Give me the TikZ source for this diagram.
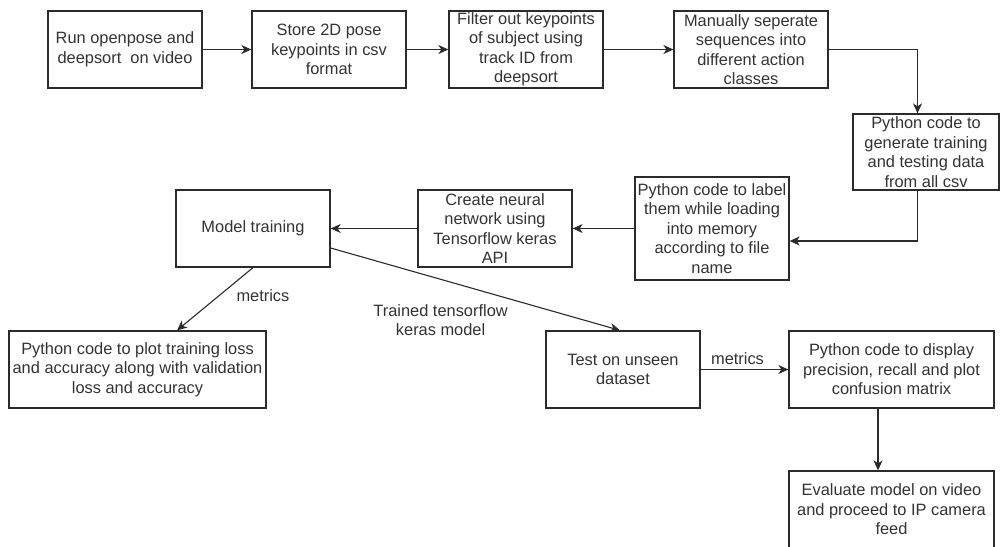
\documentclass[tikz,border=0pt]{standalone}
\usepackage{fontspec}
\setmainfont{Liberation Sans}
\usetikzlibrary{arrows.meta,positioning}
\definecolor{ink}{HTML}{2B2B2B}
\definecolor{txt}{HTML}{333333}
\tikzset{
  box/.style={draw=ink, line width=1.3pt, rectangle, inner sep=0pt, align=center,
    text=txt, font=\fontsize{16.4}{19.5}\selectfont, minimum width=154pt, minimum height=77pt},
  arr/.style={draw=ink, line width=1.1pt, -{Stealth[length=10pt,width=9pt,inset=3pt]}},
  lbl/.style={text=txt, font=\fontsize{16.4}{19.5}\selectfont, align=center, inner sep=0pt}
}
\begin{document}
\begin{tikzpicture}[x=1pt,y=-1pt]
\useasboundingbox[fill=white] (0,0) rectangle (1000,546);

% top row
\node[box] (run) at (125,49.5) {Run openpose and\\deepsort\ \ on video};
\node[box] (store) at (329,49.5) {Store 2D pose\\keypoints in csv\\format};
\node[box] (filter) at (526,49.5) {Filter out keypoints\\of subject using\\track ID from\\deepsort};
\node[box] (sep) at (751,49.5) {Manually seperate\\sequences into\\different action\\classes};
\node[box, minimum width=146pt, minimum height=76pt] (gen) at (926,152) {Python code to\\generate training\\and testing data\\from all csv};

% middle row
\node[box, minimum height=103pt] (lab) at (712,228.5) {Python code to label\\them while loading\\into memory\\according to file\\name};
\node[box] (nn) at (495,228.5) {Create neural\\network using\\Tensorflow keras\\API};
\node[box] (train) at (253,228.5) {Model training};

% bottom rows
\node[box, minimum width=257pt] (plot) at (137.5,369.5) {Python code to plot training loss\\and accuracy along with validation\\loss and accuracy};
\node[box] (test) at (623,369.5) {Test on unseen\\dataset};
\node[box, minimum width=205pt] (disp) at (891.5,369.5) {Python code to display\\precision, recall and plot\\confusion matrix};
\node[box, minimum width=205pt] (eval) at (891.5,509.5) {Evaluate model on video\\and proceed to IP camera\\feed};

% connectors
\draw[arr] (run.east) -- (store.west);
\draw[arr] (store.east) -- (filter.west);
\draw[arr] (filter.east) -- (sep.west);
\draw[arr] (sep.east) -| ([xshift=-8.5pt]gen.north);
\draw[arr] ([xshift=-8.5pt]gen.south) |- ([yshift=-12.5pt]lab.east);
\draw[arr] (lab.west) -- (nn.east);
\draw[arr] (nn.west) -- (train.east);
\draw[arr] (train.south) -- ([xshift=39.5pt]plot.north)
  node[lbl, pos=0.5, anchor=west, xshift=21pt, yshift=3pt] {metrics};
\draw[arr] ([yshift=-19.5pt]train.east) -- ([xshift=-3pt]test.north)
  node[lbl, pos=0.38, yshift=-41pt] {Trained tensorflow\\keras model};
\draw[arr] (test.east) -- (disp.west)
  node[lbl, midway, anchor=south, xshift=-7pt, yshift=4pt] {metrics};
\draw[arr] ([xshift=-13.5pt]disp.south) -- ([xshift=-13.5pt]eval.north);
\end{tikzpicture}
\end{document}
